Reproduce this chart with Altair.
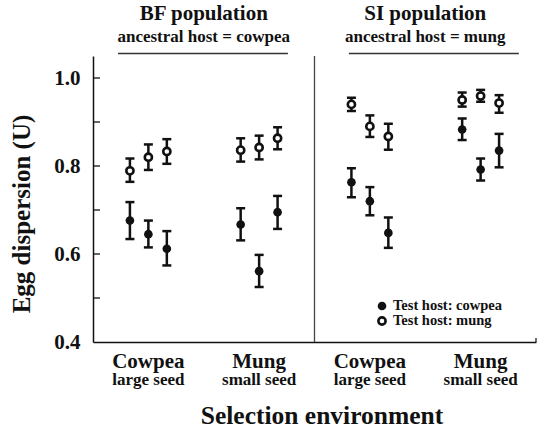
import altair as alt
import pandas as pd

FONT = "Times New Roman, Liberation Serif, Times, serif"
INK = "#111111"

# ---- data ----
group_index = [0, 0, 0, 1, 1, 1, 2, 2, 2, 3, 3, 3]   # BF-cowpea, BF-mung, SI-cowpea, SI-mung
line_index = [0, 1, 2, 0, 1, 2, 0, 1, 2, 0, 1, 2]

cowpea_mean = [0.676, 0.645, 0.612, 0.667, 0.561, 0.695, 0.763, 0.720, 0.648, 0.883, 0.792, 0.835]
cowpea_lo = [0.634, 0.615, 0.574, 0.631, 0.525, 0.657, 0.729, 0.688, 0.614, 0.859, 0.767, 0.797]
cowpea_hi = [0.718, 0.676, 0.652, 0.704, 0.598, 0.732, 0.795, 0.752, 0.683, 0.908, 0.817, 0.873]

mung_mean = [0.789, 0.820, 0.833, 0.836, 0.842, 0.863, 0.940, 0.890, 0.867, 0.950, 0.959, 0.943]
mung_lo = [0.764, 0.791, 0.805, 0.810, 0.815, 0.838, 0.925, 0.866, 0.837, 0.935, 0.946, 0.921]
mung_hi = [0.817, 0.849, 0.861, 0.863, 0.869, 0.888, 0.955, 0.915, 0.896, 0.967, 0.973, 0.961]

env_names = ["Cowpea", "Mung", "Cowpea", "Mung"]
env_sub = ["large seed", "small seed", "large seed", "small seed"]
env_pos = [0, 1, 2, 3]

pop_titles = ["BF population", "SI population"]
pop_sub = ["ancestral host = cowpea", "ancestral host = mung"]
pop_pos = [0.5, 2.5]

y_labels = [0.4, 0.6, 0.8, 1.0]
y_ticks = [0.5, 0.6, 0.7, 0.8, 0.9, 1.0]

legend_labels = ["Test host: cowpea", "Test host: mung"]

# ---- build tables ----
pos = [g + (l - 1) / 6 for g, l in zip(group_index, line_index)]
df_c = pd.DataFrame({"x": pos, "m": cowpea_mean, "lo": cowpea_lo, "hi": cowpea_hi})
df_m = pd.DataFrame({"x": pos, "m": mung_mean, "lo": mung_lo, "hi": mung_hi})
df_all = pd.concat([df_c, df_m])

xs = alt.Scale(domain=[-0.5, 3.5], nice=False, zero=False)
ys = alt.Scale(domain=[0.4, 1.05], nice=False, zero=False)

X = alt.X("x:Q", scale=xs, axis=alt.Axis(labels=False, ticks=False, grid=False, title=None,
                                          domainColor=INK, domainWidth=1.5))
Y_AX = alt.Axis(values=y_labels, format=".1f", ticks=False, grid=False, title=None,
                labelFont=FONT, labelFontWeight="bold", labelFontSize=21, labelColor=INK,
                labelPadding=13, domainColor=INK, domainWidth=1.5)

base = alt.Chart(df_all)

bars = base.mark_rule(color=INK, strokeWidth=2.5).encode(
    x=X, y=alt.Y("lo:Q", scale=ys, axis=Y_AX), y2="hi:Q")
cap_lo = base.mark_tick(color=INK, orient="horizontal", size=9, thickness=2.5, opacity=1).encode(
    x=alt.X("x:Q", scale=xs), y=alt.Y("lo:Q", scale=ys))
cap_hi = base.mark_tick(color=INK, orient="horizontal", size=9, thickness=2.5, opacity=1).encode(
    x=alt.X("x:Q", scale=xs), y=alt.Y("hi:Q", scale=ys))

pts_c = alt.Chart(df_c).mark_point(filled=True, shape="circle", size=75, color=INK, opacity=1).encode(
    x=alt.X("x:Q", scale=xs), y=alt.Y("m:Q", scale=ys))
pts_m = alt.Chart(df_m).mark_point(shape="circle", size=52, stroke=INK, fill="white",
                                   strokeWidth=2.6, opacity=1, filled=False).encode(
    x=alt.X("x:Q", scale=xs), y=alt.Y("m:Q", scale=ys))

ticks = alt.Chart(pd.DataFrame({"t": y_ticks})).mark_rule(color=INK, strokeWidth=1.3).encode(
    y=alt.Y("t:Q", scale=ys), x=alt.value(0), x2=alt.value(7))

divider = alt.Chart(pd.DataFrame({"d": [1.5]})).mark_rule(color="#444444", strokeWidth=1.3).encode(
    x=alt.X("d:Q", scale=xs), y=alt.value(0), y2=alt.value(286))

end_tick = alt.Chart(pd.DataFrame({"d": [3.5]})).mark_rule(color=INK, strokeWidth=1.2).encode(
    x=alt.X("d:Q", scale=xs), y=alt.value(282), y2=alt.value(286))

# population headers
df_pop = pd.DataFrame({"x": pop_pos, "t": pop_titles, "s": pop_sub})
pop_t = alt.Chart(df_pop).mark_text(font=FONT, fontWeight="bold", fontSize=21, color=INK,
                                    baseline="alphabetic", align="center").encode(
    x=alt.X("x:Q", scale=xs), y=alt.value(-36.5), text="t:N")
pop_s = alt.Chart(df_pop).mark_text(font=FONT, fontWeight="bold", fontSize=17, color=INK,
                                    baseline="alphabetic", align="center").encode(
    x=alt.X("x:Q", scale=xs), y=alt.value(-14.5), text="s:N")
hdr_lines = alt.Chart(pd.DataFrame({"x": [-0.274, 1.81], "x2": [1.26, 3.345]})).mark_rule(
    color="#333333", strokeWidth=1.3).encode(
    x=alt.X("x:Q", scale=xs), x2="x2:Q", y=alt.value(-2.5))

# environment labels
df_env = pd.DataFrame({"x": env_pos, "n": env_names, "s": env_sub})
env_n = alt.Chart(df_env).mark_text(font=FONT, fontWeight="bold", fontSize=21, color=INK,
                                    baseline="alphabetic", align="center").encode(
    x=alt.X("x:Q", scale=xs), y=alt.value(312), text="n:N")
env_s = alt.Chart(df_env).mark_text(font=FONT, fontWeight="bold", fontSize=17, color=INK,
                                    baseline="alphabetic", align="center").encode(
    x=alt.X("x:Q", scale=xs), y=alt.value(328.5), text="s:N")

x_title = alt.Chart(pd.DataFrame({"t": ["Selection environment"]})).mark_text(
    font=FONT, fontWeight="bold", fontSize=25.5, color=INK, baseline="alphabetic", align="center").encode(
    x=alt.value(229), y=alt.value(367.5), text="t:N")
y_title = alt.Chart(pd.DataFrame({"t": ["Egg dispersion (U)"]})).mark_text(
    font=FONT, fontWeight="bold", fontSize=25, color=INK, baseline="middle", align="center", angle=270).encode(
    x=alt.value(-71), y=alt.value(158), text="t:N")

# legend
df_leg = pd.DataFrame({"t": legend_labels, "y": [250, 265]})
leg_c = alt.Chart(df_leg.iloc[[0]]).mark_point(filled=True, shape="circle", size=75, color=INK, opacity=1).encode(
    x=alt.value(289), y=alt.value(250))
leg_m = alt.Chart(df_leg.iloc[[1]]).mark_point(shape="circle", size=52, stroke=INK, fill="white",
                                                strokeWidth=2.6, opacity=1).encode(
    x=alt.value(289), y=alt.value(265))
leg_t = alt.Chart(df_leg).mark_text(font=FONT, fontWeight="bold", fontSize=14.5, color=INK,
                                    baseline="middle", align="left").encode(
    x=alt.value(300), y=alt.Y("y:Q", scale=None), text="t:N")

chart = alt.layer(
    bars, cap_lo, cap_hi, pts_c, pts_m, ticks, divider, end_tick,
    pop_t, pop_s, hdr_lines, env_n, env_s, x_title, y_title, leg_c, leg_m, leg_t
).properties(
    width=443, height=286,
    autosize=alt.AutoSizeParams(type="none"),
    padding={"left": 93, "top": 56, "right": 1, "bottom": 87},
    background="white",
).configure_view(stroke=None)

chart.save("out.html", embed_options={"renderer": "svg", "actions": False})
